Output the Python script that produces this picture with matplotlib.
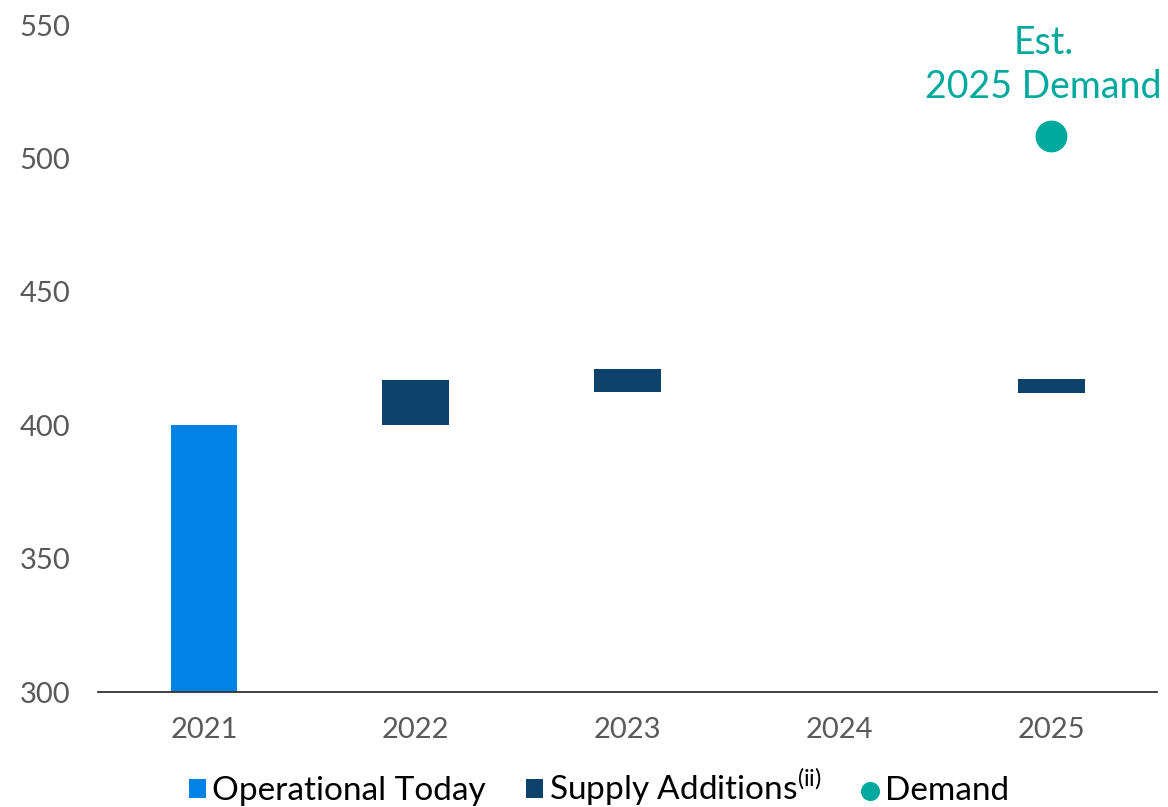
import numpy as np
import matplotlib.pyplot as plt

plt.rcParams['font.family'] = ['Lato', 'DejaVu Sans']
plt.rcParams['mathtext.fontset'] = 'custom'
plt.rcParams['mathtext.rm'] = 'Lato'

# Datos
years = ['2021', '2022', '2023', '2024', '2025']
operational = [400, np.nan, np.nan, np.nan, np.nan]
supply_bottom = [np.nan, 400, 412.5, np.nan, 412]
supply_top = [np.nan, 417, 421, np.nan, 417.5]
demand_year = '2025'
demand_value = 508.5

c_oper = '#0082E6'
c_supply = '#0F426B'
c_demand = '#00A99D'

x = np.arange(len(years))
sup_h = np.array(supply_top) - np.array(supply_bottom)

fig = plt.figure(figsize=(11.68, 8.07), dpi=100)
ax = fig.add_axes([0.084, 0.1425, 0.9066, 0.8265])

b1 = ax.bar(x, np.array(operational) - 300, bottom=300, width=0.316, color=c_oper)
b2 = ax.bar(x, sup_h, bottom=supply_bottom, width=0.316, color=c_supply)
xd = years.index(demand_year)
sc = ax.scatter([xd], [demand_value], s=480, color=c_demand, zorder=3)
ax.text(xd - 0.035, 535, 'Est.\n2025 Demand', color=c_demand, fontsize=27, ha='center', va='center',
        linespacing=1.3, clip_on=False)

ax.set_xlim(-0.5, 4.5)
ax.set_ylim(300, 550)
ax.set_yticks([300, 350, 400, 450, 500, 550])
ax.set_xticks(x)
ax.set_xticklabels(years)
ax.tick_params(axis='both', length=0, labelsize=21, colors='#595959')
ax.tick_params(axis='x', pad=18)
ax.tick_params(axis='y', pad=20)
for s in ['left', 'right', 'top']:
    ax.spines[s].set_visible(False)
ax.spines['bottom'].set_color('#333333')
ax.spines['bottom'].set_linewidth(1.3)

fig.legend([b1, b2, sc],
           ['Operational Today', 'Supply Additions$^{\\mathrm{(ii)}}$', 'Demand'],
           loc='center', bbox_to_anchor=(0.513, 0.024), ncol=3, frameon=False, fontsize=24,
           handlelength=0.5, handleheight=0.5, handletextpad=0.2, columnspacing=1.2,
           borderaxespad=0, markerscale=0.58, scatteryoffsets=[0.5])

fig.savefig('out.png', dpi=100)
